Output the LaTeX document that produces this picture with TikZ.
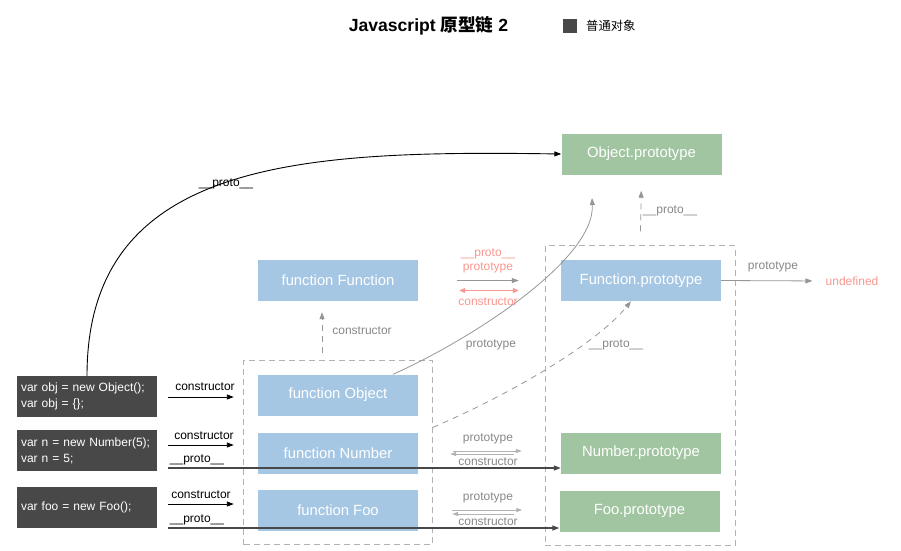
\documentclass[tikz,border=0pt]{standalone}
\usepackage{fontspec}
\setmainfont{Liberation Sans}
\newfontfamily\cjk{Noto Sans CJK SC}
\usepackage{tikz}
\usetikzlibrary{arrows.meta, positioning, calc, fit}
\definecolor{myblue}{RGB}{165,199,228}
\definecolor{mygreen}{RGB}{160,197,160}
\definecolor{mydark}{RGB}{72,72,72}
\definecolor{mygray}{RGB}{150,150,150}
\definecolor{mylight}{RGB}{178,178,178}
\definecolor{myred}{RGB}{248,150,143}
\definecolor{mytext}{RGB}{135,135,135}
\tikzset{
  block/.style={rectangle, fill=myblue, text=white,
    minimum width=160pt, minimum height=41pt, inner sep=0pt,
    font=\fontsize{14.8}{17}\selectfont},
  greenblock/.style={block, fill=mygreen},
  codeblock/.style={rectangle, fill=mydark, text=white,
    text width=132pt, minimum height=41pt, inner sep=4pt, align=left,
    font=\fontsize{12}{16}\selectfont},
  group/.style={rectangle, draw=mylight, dash pattern=on 6pt off 4pt,
    line width=0.8pt, inner sep=14pt},
  arrow/.style={-{Triangle[length=7pt,width=5pt]}, line width=0.9pt, color=black},
  grayarrow/.style={-{Triangle[length=7pt,width=5pt]}, line width=0.8pt, color=mygray},
  dasharrow/.style={grayarrow, dash pattern=on 6pt off 5pt},
  redarrow/.style={{Triangle[length=6pt,width=5pt]}-{Triangle[length=6pt,width=5pt]},
    line width=1pt, color=myred},
  protoline/.style={-{Triangle[length=7pt,width=5pt]}, line width=1.5pt, color=mydark},
  twinline/.style={line width=1pt, color=mylight},
  lbl/.style={font=\fontsize{12}{14}\selectfont, text=mytext, inner sep=1pt},
  redlbl/.style={lbl, text=myred},
  blklbl/.style={lbl, text=black}
}
\begin{document}
\begin{tikzpicture}[x=1pt, y=-1pt]
  \useasboundingbox (0,0) rectangle (901,550);
  \node[font=\fontsize{17.6}{20}\selectfont\bfseries] (title) at (428.5,26) {Javascript {\cjk 原型链} 2};
  \node[fill=mydark, minimum size=14pt, inner sep=0pt] (legend) at (570,26) {};
  \node[font=\fontsize{12.3}{14}\selectfont\cjk, anchor=west, inner sep=0pt] (legendtxt) at (586,26) {普通对象};

  \node[greenblock] (objproto) at (641.5,154) {Object.prototype};
  \node[block] (funcfunc) at (338,280.5) {function Function};
  \node[block] (funcproto) at (641,280.5) {Function.prototype};
  \node[block] (funcobj) at (338,395) {function Object};
  \node[block] (funcnum) at (338,453) {function Number};
  \node[block] (funcfoo) at (338,510) {function Foo};
  \node[greenblock] (numproto) at (641,453) {Number.prototype};
  \node[greenblock] (fooproto) at (639.5,511) {Foo.prototype};

  \node[codeblock] (objcode) at (87,396.5) {var obj = new Object();\\var obj = \{\};};
  \node[codeblock] (ncode) at (87,450.5) {var n = new Number(5);\\var n = 5;};
  \node[codeblock] (foocode) at (87,507) {var foo = new Foo();};

  \node[group, fit=(funcobj) (funcfoo)] (leftgrp) {};
  \node[group, fit=(funcproto) (fooproto)] (rightgrp) {};

  \node[redlbl] (undef) at (852,281) {undefined};
  \coordinate (optip) at (592,198);

  \draw[arrow] (objcode.north) .. controls (87,160) and (300,150) .. (objproto.west);
  \node[blklbl] at (226,184) {\_\_proto\_\_};

  \draw[grayarrow] ([xshift=55pt]funcobj.north) .. controls (470,340) and (595,260) .. (optip);
  \node[lbl] at (491,345) {prototype};

  \draw[dasharrow, shorten <=14pt, shorten >=16pt] (rightgrp.north) -- (objproto.south);
  \node[lbl] at (670,211) {\_\_proto\_\_};

  \draw[dasharrow] ([yshift=25pt]leftgrp.east) .. controls (520,390) and (600,340) .. ([xshift=-10pt]funcproto.south);
  \node[lbl] at (616,345) {\_\_proto\_\_};

  \draw[dasharrow, shorten <=7pt, shorten >=11pt] ([xshift=-16pt]leftgrp.north) -- ([xshift=-16pt]funcfunc.south);
  \node[lbl] at (362,331) {constructor};

  \draw[grayarrow, shorten <=39pt, shorten >=42pt] (funcfunc.east) -- (funcproto.west);
  \draw[redarrow, shorten <=41pt, shorten >=42pt] ([yshift=-10pt]funcfunc.east) -- ([yshift=-10pt]funcproto.west);
  \node[redlbl] at (488,254) {\_\_proto\_\_};
  \node[redlbl] at (488,268) {prototype};
  \node[redlbl] at (488,302) {constructor};

  \draw[grayarrow, shorten >=12pt] (funcproto.east) -- (undef.west);
  \node[lbl] at (773,267) {prototype};

  \draw[arrow, shorten <=11pt, shorten >=24pt] ($(objcode.east |- funcobj.west)+(0,2)$) -- ($(funcobj.west)+(0,2)$);
  \node[blklbl] at (205,387) {constructor};
  \draw[arrow, shorten <=11pt, shorten >=24pt] ($(ncode.east |- funcnum.west)+(0,-8)$) -- ($(funcnum.west)+(0,-8)$);
  \node[blklbl] at (204,436) {constructor};
  \draw[arrow, shorten <=11pt, shorten >=24pt] ($(foocode.east |- funcfoo.west)+(0,-6)$) -- ($(funcfoo.west)+(0,-6)$);
  \node[blklbl] at (201,495) {constructor};

  \draw[protoline, shorten <=11pt] ($(ncode.east |- numproto.west)+(0,15)$) -- ($(numproto.west)+(0,15)$);
  \node[blklbl] at (197,460) {\_\_proto\_\_};
  \draw[protoline, shorten <=11pt] ($(foocode.east |- fooproto.west)+(0,17)$) -- ($(fooproto.west)+(0,17)$);
  \node[blklbl] at (197,520) {\_\_proto\_\_};

  \draw[twinline, -{Triangle[length=6pt,width=4pt]}, shorten <=35pt, shorten >=39pt] ($(funcnum.east)+(0,-2)$) -- ($(numproto.west)+(0,-2)$);
  \draw[twinline, {Triangle[length=6pt,width=4pt]}-, shorten <=32pt, shorten >=47pt] ($(funcnum.east)+(0,1)$) -- ($(numproto.west)+(0,1)$);
  \node[lbl] at (488,439) {prototype};
  \node[lbl] at (488,462) {constructor};
  \draw[twinline, -{Triangle[length=6pt,width=4pt]}, shorten <=34pt, shorten >=37pt] ($(funcfoo.east)+(0,0)$) -- ($(fooproto.west)+(0,-1)$);
  \draw[twinline, {Triangle[length=6pt,width=4pt]}-, shorten <=34pt, shorten >=45pt] ($(funcfoo.east)+(0,4)$) -- ($(fooproto.west)+(0,3)$);
  \node[lbl] at (488,498) {prototype};
  \node[lbl] at (488,522) {constructor};
\end{tikzpicture}
\end{document}
